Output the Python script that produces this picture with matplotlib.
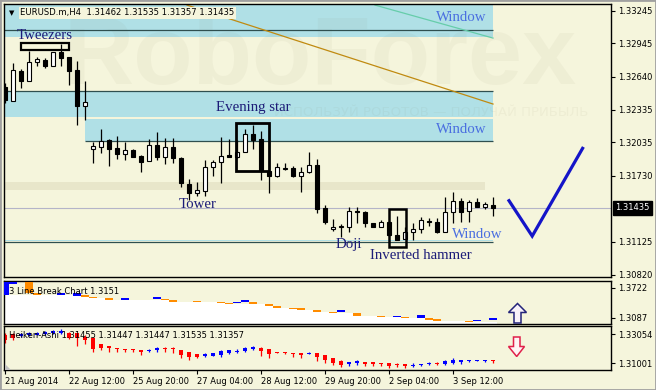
import matplotlib.pyplot as plt
import matplotlib.transforms as mtransforms
import numpy as np
from matplotlib.patches import Polygon, Rectangle

W, H = 656, 390
BG = "#f5f5dc"
BAND = "#b0e0e6"
DARK = "#2f4f4f"

# EURUSD.m H4 candles
opens = [1.32544, 1.32419, 1.32691, 1.32602, 1.32771, 1.32792, 1.32740, 1.32863, 1.32818, 1.32700,
         1.32373, 1.31971, 1.31995, 1.32057, 1.31980, 1.31925, 1.31962, 1.31910, 1.31867, 1.32011,
         1.31904, 1.31990, 1.31888, 1.31653, 1.31573, 1.31592, 1.31806, 1.31852, 1.31919, 1.31904,
         1.31949, 1.32112, 1.32066, 1.31775, 1.31730, 1.31790, 1.31797, 1.31730, 1.31760, 1.31828,
         1.31429, 1.31242, 1.31261, 1.31255, 1.31405, 1.31399, 1.31291, 1.31261, 1.31301, 1.31189,
         1.31148, 1.31215, 1.31237, 1.31315, 1.31301, 1.31215, 1.31393, 1.31500, 1.31408, 1.31485,
         1.31440, 1.31462]
highs = [1.32580, 1.32762, 1.32706, 1.32878, 1.32820, 1.32810, 1.32866, 1.32939, 1.32824, 1.32783,
         1.32602, 1.32041, 1.32158, 1.32063, 1.32094, 1.32041, 1.31971, 1.31919, 1.32066, 1.32128,
         1.32073, 1.32073, 1.31904, 1.31699, 1.31674, 1.31873, 1.31873, 1.32082, 1.32066, 1.32057,
         1.32158, 1.32195, 1.32140, 1.31780, 1.31848, 1.31843, 1.31821, 1.31812, 1.31944, 1.31882,
         1.31460, 1.31328, 1.31282, 1.31445, 1.31445, 1.31402, 1.31294, 1.31322, 1.31313, 1.31359,
         1.31255, 1.31291, 1.31347, 1.31343, 1.31338, 1.31536, 1.31582, 1.31522, 1.31506, 1.31522,
         1.31490, 1.31535]
lows = [1.32397, 1.32415, 1.32537, 1.32598, 1.32740, 1.32716, 1.32736, 1.32740, 1.32562, 1.32195,
        1.32241, 1.31843, 1.31940, 1.31821, 1.31882, 1.31873, 1.31904, 1.31766, 1.31864, 1.31873,
        1.31833, 1.31848, 1.31628, 1.31506, 1.31543, 1.31543, 1.31730, 1.31665, 1.31898, 1.31892,
        1.31945, 1.31974, 1.31690, 1.31573, 1.31721, 1.31782, 1.31721, 1.31582, 1.31757, 1.31384,
        1.31285, 1.31221, 1.31163, 1.31209, 1.31298, 1.31255, 1.31258, 1.31255, 1.31176, 1.31139,
        1.31145, 1.31139, 1.31206, 1.31270, 1.31200, 1.31210, 1.31292, 1.31301, 1.31301, 1.31440,
        1.31420, 1.31357]
closes = [1.32425, 1.32700, 1.32602, 1.32771, 1.32801, 1.32740, 1.32863, 1.32813, 1.32694, 1.32370,
          1.32404, 1.32002, 1.32051, 1.31977, 1.31925, 1.31962, 1.31904, 1.31857, 1.32011, 1.31904,
          1.31990, 1.31888, 1.31660, 1.31573, 1.31598, 1.31806, 1.31852, 1.31913, 1.31904, 1.31949,
          1.32112, 1.32057, 1.31775, 1.31730, 1.31806, 1.31803, 1.31730, 1.31766, 1.31828, 1.31420,
          1.31301, 1.31261, 1.31264, 1.31405, 1.31393, 1.31291, 1.31261, 1.31301, 1.31189, 1.31139,
          1.31215, 1.31237, 1.31322, 1.31305, 1.31215, 1.31393, 1.31500, 1.31399, 1.31485, 1.31440,
          1.31470, 1.31435]

# Heiken-Ashi panel
ha_open = [1.3300, 1.3308, 1.3293, 1.3300, 1.3304, 1.3308, 1.3315, 1.3318, 1.3318, 1.3312,
           1.3289, 1.3277, 1.3235, 1.3223, 1.3206, 1.3201, 1.3201, 1.3192, 1.3187, 1.3192,
           1.3208, 1.3203, 1.3194, 1.3178, 1.3164, 1.3152, 1.3154, 1.3159, 1.3171, 1.3180,
           1.3187, 1.3201, 1.3211, 1.3201, 1.3180, 1.3178, 1.3173, 1.3173, 1.3168, 1.3173,
           1.3159, 1.3135, 1.3116, 1.3096, 1.3100, 1.3107, 1.3107, 1.3100, 1.3100, 1.3097,
           1.3093, 1.3081, 1.3086, 1.3093, 1.3102, 1.3093, 1.3102, 1.3111, 1.3115, 1.3116,
           1.3117, 1.3121]
ha_close = [1.3265, 1.3279, 1.3308, 1.3315, 1.3315, 1.3322, 1.3329, 1.3329, 1.3277, 1.3277,
            1.3265, 1.3201, 1.3211, 1.3206, 1.3199, 1.3194, 1.3192, 1.3182, 1.3194, 1.3206,
            1.3201, 1.3199, 1.3159, 1.3147, 1.3147, 1.3164, 1.3171, 1.3187, 1.3194, 1.3190,
            1.3211, 1.3218, 1.3187, 1.3166, 1.3173, 1.3171, 1.3166, 1.3156, 1.3175, 1.3147,
            1.3124, 1.3100, 1.3088, 1.3106, 1.3116, 1.3095, 1.3095, 1.3093, 1.3081, 1.3086,
            1.3083, 1.3088, 1.3095, 1.3104, 1.3098, 1.3116, 1.3124, 1.3121, 1.3118, 1.3121,
            1.3120, 1.3118]
ha_high = [1.3315, 1.3315, 1.3315, 1.3320, 1.3322, 1.3329, 1.3336, 1.3343, 1.3322, 1.3315,
           1.3300, 1.3289, 1.3237, 1.3226, 1.3208, 1.3203, 1.3203, 1.3194, 1.3201, 1.3213,
           1.3213, 1.3213, 1.3196, 1.3180, 1.3166, 1.3173, 1.3173, 1.3194, 1.3197, 1.3201,
           1.3218, 1.3225, 1.3213, 1.3203, 1.3182, 1.3180, 1.3175, 1.3175, 1.3180, 1.3175,
           1.3161, 1.3138, 1.3124, 1.3111, 1.3120, 1.3109, 1.3109, 1.3102, 1.3102, 1.3099,
           1.3095, 1.3100, 1.3097, 1.3107, 1.3107, 1.3124, 1.3136, 1.3124, 1.3126, 1.3123,
           1.3124, 1.3124]
ha_low = [1.3244, 1.3265, 1.3286, 1.3296, 1.3300, 1.3304, 1.3311, 1.3311, 1.3272, 1.3225,
          1.3234, 1.3178, 1.3194, 1.3178, 1.3182, 1.3178, 1.3178, 1.3159, 1.3182, 1.3178,
          1.3178, 1.3173, 1.3140, 1.3124, 1.3136, 1.3147, 1.3152, 1.3145, 1.3168, 1.3171,
          1.3182, 1.3194, 1.3154, 1.3140, 1.3171, 1.3168, 1.3147, 1.3140, 1.3164, 1.3116,
          1.3100, 1.3088, 1.3076, 1.3084, 1.3088, 1.3084, 1.3081, 1.3081, 1.3069, 1.3072,
          1.3069, 1.3072, 1.3084, 1.3088, 1.3088, 1.3088, 1.3098, 1.3098, 1.3107, 1.3114,
          1.3107, 1.3100]

# 3 Line Break panel: bar index, top, bottom, rising?
lb_idx = [0, 1, 3, 4, 7, 9, 10, 11, 13, 15, 19, 20, 21, 24, 27, 28, 29, 30, 31, 33, 34, 36,
          37, 39, 41, 42, 44, 47, 49, 50, 52, 53, 54, 58, 59, 61]
lb_top = [1.3843, 1.3843, 1.3843, 1.3610, 1.3610, 1.3610, 1.3568, 1.3525, 1.3504, 1.3504,
          1.3525, 1.3483, 1.3462, 1.3441, 1.3426, 1.3398, 1.3426, 1.3455, 1.3426, 1.3371,
          1.3341, 1.3299, 1.3286, 1.3256, 1.3214, 1.3256, 1.3186, 1.3129, 1.3129, 1.3102,
          1.3144, 1.3087, 1.3053, 1.3024, 1.3045, 1.3074]
lb_bot = [1.3568, 1.3800, 1.3610, 1.3568, 1.3568, 1.3546, 1.3525, 1.3504, 1.3472, 1.3472,
          1.3483, 1.3462, 1.3426, 1.3419, 1.3398, 1.3377, 1.3398, 1.3426, 1.3371, 1.3341,
          1.3299, 1.3271, 1.3256, 1.3214, 1.3186, 1.3214, 1.3129, 1.3102, 1.3102, 1.3074,
          1.3087, 1.3045, 1.3024, 1.3002, 1.3024, 1.3045]
lb_up = [1, 1, 0, 0, 1, 1, 0, 0, 0, 1, 1, 0, 0, 0, 0, 0, 1, 1, 0, 0, 0, 0, 0, 0, 0, 1,
         0, 0, 1, 0, 1, 0, 0, 0, 1, 1]

# price windows: from idx, to idx, low, high, dark edge level
windows = [(-0.5, 61, 1.33006, 1.33400, 1.33068),
           (-0.5, 61, 1.32271, 1.32510, 1.32510),
           (10, 61, 1.32048, 1.32247, 1.32048),
           (-0.5, 61, 1.31127, 1.31139, 1.31125)]

# trend lines (idx, price)
trend_orange = ([22.75, 61], [1.33297, 1.32388])
trend_green = ([46.25, 61], [1.33297, 1.32994])
forecast_x = [63, 65.9, 72.2]
forecast_y = [1.31500, 1.31175, 1.31981]

price_ticks = [1.33245, 1.32945, 1.32640, 1.32335, 1.32035, 1.31730, 1.31125, 1.30820]
last_price = 1.31435
time_ticks = [0, 8, 16, 24, 32, 40, 48, 56]
time_labels = ["21 Aug 2014", "22 Aug 12:00", "25 Aug 20:00", "27 Aug 04:00",
               "28 Aug 12:00", "29 Aug 20:00", "2 Sep 04:00", "3 Sep 12:00"]


def px_box(x0, y0, x1, y1):
    return [x0 / W, 1 - y1 / H, (x1 - x0) / W, (y1 - y0) / H]


def to_fig(points):
    return [(x / W, 1 - y / H) for x, y in points]


fig = plt.figure(figsize=(W / 100, H / 100), dpi=100, facecolor=BG)
ax = fig.add_axes(px_box(4, 4, 611, 277))
ax2 = fig.add_axes(px_box(4, 281, 611, 324), sharex=ax)
ax3 = fig.add_axes(px_box(4, 326, 611, 370), sharex=ax)

for a in (ax, ax2, ax3):
    a.set_facecolor(BG)
    a.yaxis.tick_right()
    a.tick_params(axis="y", labelsize=6, length=3, width=0.8, pad=2)
    for s in a.spines.values():
        s.set_linewidth(1.0)
        s.set_color("black")

ax.set_xlim(-0.125, 75.75)
ax.set_ylim(1.30799, 1.33307)
ax2.set_ylim(1.29535, 1.38638)
ax3.set_ylim(1.30527, 1.33642)

# --- main panel ---
for i0, i1, lo, hi, lvl in windows:
    ax.fill_between([i0, i1], lo, hi, color=BAND, lw=0, zorder=1)
    ax.hlines(lvl, i0, i1, color=DARK, lw=0.9, zorder=2)

ax.axhspan(1.31598, 1.31674, xmin=0, xmax=(485 - 4) / 607, color="#e8e6ca", lw=0, zorder=0.5)
ax.text(0.52, 0.80, "RoboForex", transform=ax.transAxes, ha="center", va="center",
        fontsize=70, fontweight="bold", family="Liberation Sans", color="#7a7450",
        alpha=0.05, zorder=1.5)
ax.text(0.962, 0.603, "ИСПОЛЬЗУЙ РОБОТОВ — ПОЛУЧАЙ ПРИБЫЛЬ", transform=ax.transAxes,
        ha="right", va="center", fontsize=9.5, color="#7a7450", alpha=0.06, zorder=1.5)

ax.axhline(last_price, color="#b4b4c8", lw=0.8, zorder=1.8)
ax.plot(*trend_orange, color="#c08a10", lw=0.9, zorder=2)
ax.plot(*trend_green, color="#66cdaa", lw=0.9, zorder=2)

idx = np.arange(len(opens))
o, hi_, lo_, c = map(np.array, (opens, highs, lows, closes))
rising = c >= o
ax.vlines(idx, lo_, hi_, color="black", lw=0.9, zorder=4)
ax.bar(idx, np.maximum(np.abs(c - o), 0.00003), bottom=np.minimum(o, c), width=0.6,
       color=np.where(rising, "white", "black"), edgecolor="black", linewidth=0.8, zorder=5)

for x0, x1, y0, y1, lw in [(1.96, 8.04, 1.32884, 1.32945, 1.6),
                           (28.9, 33.04, 1.31773, 1.32216, 2.0),
                           (48.0, 50.1, 1.31077, 1.31423, 1.8)]:
    ax.add_patch(Rectangle((x0, y0), x1 - x0, y1 - y0, fill=False, ec="black", lw=lw, zorder=6))

navy = "#1c1c78"
win = "#4a6ee0"
for txt, x, y, col in [("Tweezers", 5.0, 1.33022, navy), ("Evening star", 31.0, 1.32357, navy),
                       ("Window", 57.0, 1.33184, win), ("Window", 57.0, 1.32155, win),
                       ("Window", 59.0, 1.31185, win), ("Tower", 24.1, 1.31469, navy),
                       ("Doji", 43.0, 1.31099, navy), ("Inverted hammer", 52.0, 1.31001, navy)]:
    ax.text(x, y, txt, ha="center", va="center", fontsize=10.7, family="Liberation Serif",
            color=col, zorder=7)

ax.plot(forecast_x, forecast_y, color="#1414c8", lw=2.3, solid_joinstyle="miter", zorder=7)

ax.set_yticks(price_ticks)
ax.set_yticklabels([f"{p:.5f}" for p in price_ticks])
blend = mtransforms.blended_transform_factory(ax.transAxes, ax.transData)
ax.text(1.0 + 4 / 607, last_price, f"{last_price:.5f}", transform=blend, ha="left", va="center",
        fontsize=6, color="white", bbox=dict(boxstyle="square,pad=0.3", fc="black", ec="black"))

ax.text(0.0132, 0.968, "▼", transform=ax.transAxes, ha="center", va="center", fontsize=5)
ax.text(0.0264, 0.968, "EURUSD.m,H4  1.31462 1.31535 1.31357 1.31435", transform=ax.transAxes,
        ha="left", va="center", fontsize=6.1, zorder=8,
        bbox=dict(boxstyle="square,pad=0.15", fc=BG, ec="none"))

# --- 3 line break panel ---
lb_idx_a = np.array(lb_idx)
floor = np.minimum.accumulate(np.array(lb_bot))
edges = np.append(lb_idx_a - 0.5, 61.5)
ax2.fill_between(edges, np.append(floor, floor[-1]), 1.29535, step="post", color="white", lw=0)
lb_cols = ["#0000ff" if u else "#ff8c00" for u in lb_up]
ax2.bar(lb_idx_a, np.array(lb_top) - np.array(lb_bot), bottom=lb_bot, width=1.0,
        color=lb_cols, lw=0, zorder=3)
ax2.set_yticks([1.3722, 1.3087])
ax2.set_yticklabels(["1.3722", "1.3087"])
ax2.text(0.0082, 0.76, "3 Line Break Chart 1.3151", transform=ax2.transAxes, ha="left",
         va="center", fontsize=6, zorder=5)

# --- heiken ashi panel ---
ho, hc = np.array(ha_open), np.array(ha_close)
ha_cols = np.where(hc >= ho, "#0000ff", "#ff0000")
ax3.vlines(idx, ha_low, ha_high, colors=ha_cols, lw=0.9)
ax3.bar(idx, np.maximum(np.abs(hc - ho), 0.0006), bottom=np.minimum(ho, hc), width=0.6,
        color=ha_cols, lw=0)
ax3.set_yticks([1.33054, 1.31001])
ax3.set_yticklabels(["1.33054", "1.31001"])
ax3.text(0.0082, 0.78, "Heiken-Ashi 1.31455 1.31447 1.31447 1.31535 1.31357",
         transform=ax3.transAxes, ha="left", va="center", fontsize=6, zorder=5)

ax3.set_xticks(time_ticks)
ax3.set_xticklabels(time_labels)
ax3.tick_params(axis="x", labelsize=6, length=3, width=0.8, pad=2)
for t in ax3.get_xticklabels():
    t.set_ha("left")
for a in (ax, ax2):
    a.tick_params(axis="x", bottom=False, labelbottom=False)

# signal arrows
fig.add_artist(Polygon(to_fig([(517.5, 303.5), (508.5, 312.5), (514, 312.5), (514, 323),
                                (521, 323), (521, 312.5), (526.5, 312.5)]),
                       closed=True, fc="#f8f2fa", ec="#24247a", lw=1.1,
                       transform=fig.transFigure))
fig.add_artist(Polygon(to_fig([(513.5, 337), (520, 337), (520, 346.5), (524.5, 346.5),
                                (516.7, 356.5), (508.5, 346.5), (513.5, 346.5)]),
                       closed=True, fc="#fff4f4", ec="#e0204a", lw=1.1,
                       transform=fig.transFigure))
fig.add_artist(Polygon(to_fig([(5, 364), (5, 369.5), (10.5, 369.5)]), closed=True,
                       fc="#c0c0c0", ec="none", transform=fig.transFigure))

fig.add_artist(Rectangle((0, 0), 1, 1, fill=False, ec="#a0a0a0", lw=2.0,
                         transform=fig.transFigure))

fig.savefig("out.png", dpi=100, facecolor=BG)
